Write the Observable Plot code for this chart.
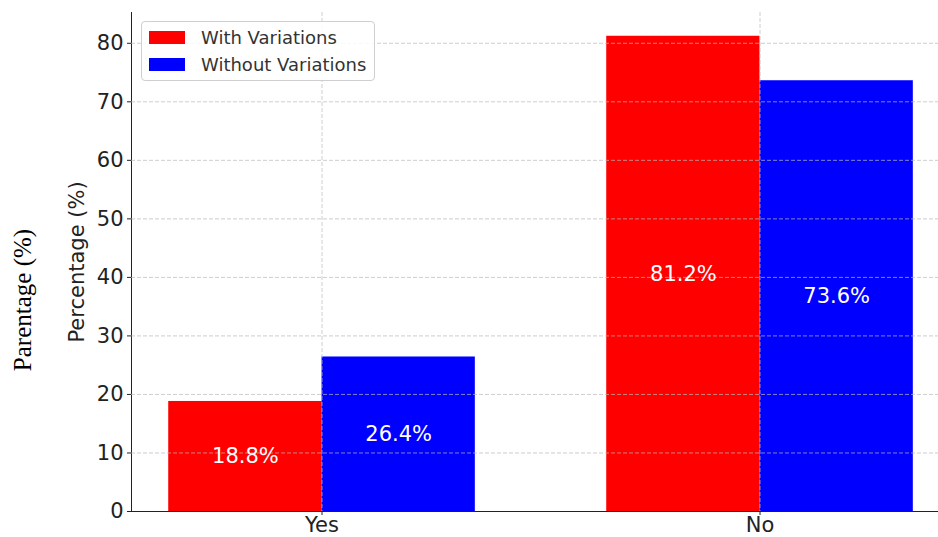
<!DOCTYPE html>
<html>
<head>
<meta charset="utf-8">
<script src="https://cdn.jsdelivr.net/npm/d3@7"></script>
<script src="https://cdn.jsdelivr.net/npm/@observablehq/plot@0.6"></script>
<style>
  body { margin: 0; background: #fff; }
  #wrap { position: relative; width: 938px; height: 537px; font-family: "DejaVu Sans", sans-serif; }
  #legend {
    position: absolute; left: 141px; top: 21px; width: 232px; height: 58px;
    border: 1px solid #cfcfcf; border-radius: 4px; background: rgba(255,255,255,0.85);
  }
  .item { position: absolute; left: 7px; height: 24px; display: flex; align-items: center; }
  .swatch { width: 36px; height: 13px; margin-right: 16px; }
  .item span { font-size: 18px; color: #333; white-space: nowrap; }
</style>
</head>
<body>
<div id="wrap"></div>
<script>
// Survey answers, percentage per group
const categories = ["Yes", "No"];
const series = ["With Variations", "Without Variations"];
const withVariations = [18.8, 81.2];
const withoutVariations = [26.4, 73.6];
const seriesColors = ["#ff0000", "#0000ff"];
const yTicks = [0, 10, 20, 30, 40, 50, 60, 70, 80];

const barWidth = 0.35;
const outerLabel = "Parentage (%)";

// One row per bar: group index, left/right edge in group units, value
const rows = [];
categories.forEach((cat, i) => {
  rows.push({cat, series: series[0], x1: i - barWidth, x2: i, value: withVariations[i]});
  rows.push({cat, series: series[1], x1: i, x2: i + barWidth, value: withoutVariations[i]});
});

const grid = {stroke: "#b8b8b8", strokeOpacity: 0.7, strokeDasharray: "4,2", strokeWidth: 1};

const chart = Plot.plot({
  width: 938,
  height: 537,
  marginLeft: 131,
  marginRight: 0,
  marginTop: 12,
  marginBottom: 26,
  style: {fontFamily: "DejaVu Sans, sans-serif", fontSize: "21px", color: "#222", background: "#fff", overflow: "visible"},
  x: {
    type: "linear",
    domain: [-0.435, -0.435 + 807 / 438],
    ticks: 2,
    tickFormat: i => categories[i] ?? "",
    tickSize: 4,
    tickPadding: 2,
    line: true,
    label: null
  },
  y: {
    domain: [0, 85.26],
    ticks: 10,
    tickSize: 4,
    tickPadding: 4,
    line: true,
    label: null
  },
  color: {domain: series, range: seriesColors},
  marks: [
    Plot.rectY(rows, {x1: "x1", x2: "x2", y1: 0, y2: "value", fill: "series"}),
    Plot.ruleY(yTicks.slice(1), grid),
    Plot.ruleX(categories.map((_, i) => i), grid),
    Plot.text(rows, {
      x: d => (d.x1 + d.x2) / 2,
      y: d => d.value / 2,
      text: d => d.value.toFixed(1) + "%",
      fill: "white",
      fontSize: 21
    }),
    Plot.text(["Percentage (%)"], {
      frameAnchor: "left", textAnchor: "middle", dx: -54, rotate: -90, fontSize: 21, fill: "#222"
    }),
    Plot.text([outerLabel], {
      frameAnchor: "left", textAnchor: "middle", dx: -109, dy: 38, rotate: -90, fontSize: 25, fill: "#000"
    })
  ]
});

// The outer label is set in a serif face
d3.select(chart).selectAll("text")
  .filter(function() { return this.textContent === outerLabel; })
  .style("font-family", "'Liberation Serif', 'Times New Roman', serif");

const wrap = document.getElementById("wrap");
wrap.appendChild(chart);

// Legend box in the top-left corner of the plot area
const legend = document.createElement("div");
legend.id = "legend";
series.forEach((name, i) => {
  const item = document.createElement("div");
  item.className = "item";
  item.style.top = (3 + i * 27) + "px";
  const sw = document.createElement("div");
  sw.className = "swatch";
  sw.style.background = seriesColors[i];
  const label = document.createElement("span");
  label.textContent = name;
  item.appendChild(sw);
  item.appendChild(label);
  legend.appendChild(item);
});
wrap.appendChild(legend);
</script>
</body>
</html>
